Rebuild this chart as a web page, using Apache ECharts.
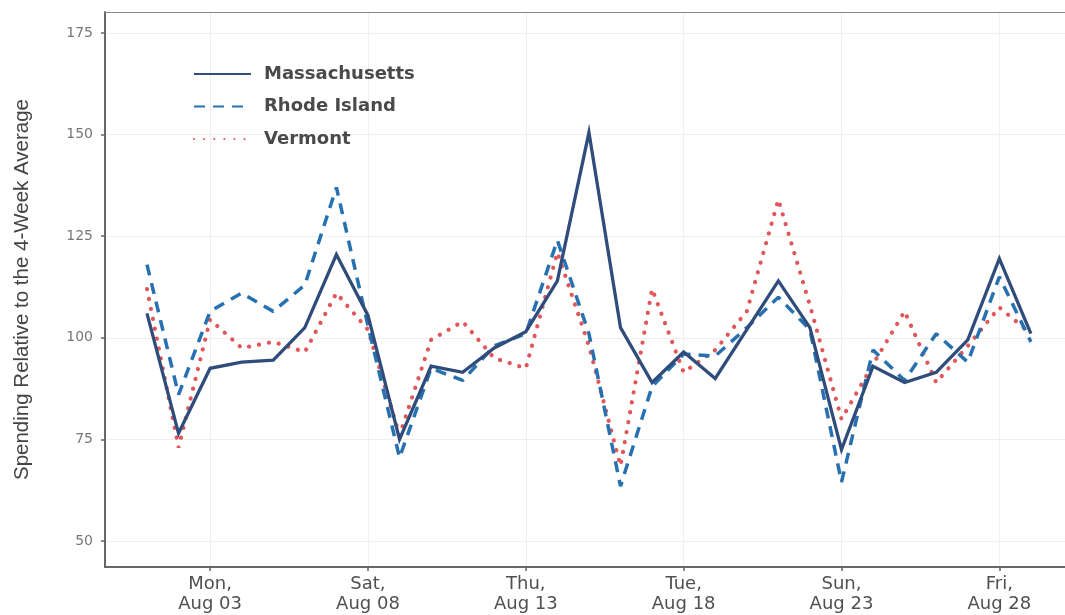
<!DOCTYPE html>
<html>
<head>
<meta charset="utf-8">
<script src="https://cdn.jsdelivr.net/npm/echarts@6/dist/echarts.min.js"></script>
<style>
html,body{margin:0;padding:0;background:#fff;}
#chart{width:1065px;height:615px;}
</style>
</head>
<body>
<div id="chart"></div>
<script>
// Day of August for each observation
const days = [1,2,3,4,5,6,7,8,9,10,11,12,13,14,15,16,17,18,19,20,21,22,23,24,25,26,27,28,29];
const massachusetts = [106,76.5,92.5,94,94.5,102.5,120.5,105.5,75,93,91.5,97.5,101.5,114,150.5,102.5,89,96.5,90,102,114,102.5,72.5,93,89,91.5,99.5,119.5,101];
const rhodeIsland   = [118,86,106.5,111,106.5,113,137,103,70.5,92.5,89.5,98,101,124,101,63.5,88,96,95.5,102.5,110,102,64.5,97,89.5,101,94,115,99];
const vermont       = [112,73,104.5,97.5,99,96.5,111,102,76,99.5,104,95,92.5,121,98,68.5,112,91.5,97,106.5,134,108,80,93.5,106.5,89,98,107.5,101];

const xTickDays = [3,8,13,18,23,28];
const xTickLabels = ['Mon,\nAug 03','Sat,\nAug 08','Thu,\nAug 13','Tue,\nAug 18','Sun,\nAug 23','Fri,\nAug 28'];
const yTicks = [50,75,100,125,150,175];
const yTitle = 'Spending Relative to the 4-Week Average';

function pairs(vals){ return days.map((d,i)=>[d, vals[i]]); }

const X_MIN = -0.33, X_MAX = 30.08;

const chart = echarts.init(document.getElementById('chart'), null, {renderer:'canvas'});
chart.setOption({
  backgroundColor:'#ffffff',
  animation:false,
  grid:{left:105, right:0, top:12, bottom:48, show:false},
  legend:{
    orient:'vertical', left:193, top:64, padding:0,
    itemWidth:57, itemHeight:20, itemGap:12.5,
    itemStyle:{opacity:0, color:'transparent', borderWidth:0},
    textStyle:{fontFamily:'DejaVu Sans', fontSize:18, fontWeight:'bold', color:'#4a4a4a', lineHeight:20, padding:[0,0,0,8]},
    data:['Massachusetts','Rhode Island','Vermont']
  },
  xAxis:[{
    type:'value', min:X_MIN, max:X_MAX,
    axisLine:{show:true, onZero:false, lineStyle:{color:'#666', width:2}},
    axisTick:{show:true, length:4, customValues:xTickDays, lineStyle:{color:'#666', width:1.5}},
    axisLabel:{customValues:xTickDays, margin:7, fontFamily:'DejaVu Sans', fontSize:18, lineHeight:20, color:'#505050',
      formatter:function(v){ const i = xTickDays.indexOf(v); return i>=0 ? xTickLabels[i] : ''; }},
    splitLine:{show:true, lineStyle:{color:'#efefef', width:1}}
  },{
    type:'value', position:'top', min:X_MIN, max:X_MAX,
    axisLine:{show:true, onZero:false, lineStyle:{color:'#8a8a8a', width:1.2}},
    axisTick:{show:false}, axisLabel:{show:false}, splitLine:{show:false}
  }],
  yAxis:{
    type:'value', min:43.6, max:180.17,
    name:yTitle, nameLocation:'middle', nameGap:72, nameRotate:90,
    nameTextStyle:{fontFamily:'Liberation Sans', fontSize:20.5, color:'#444'},
    axisLine:{show:true, onZero:false, lineStyle:{color:'#666', width:2}},
    axisTick:{show:true, length:4, customValues:yTicks, lineStyle:{color:'#666', width:1.5}},
    axisLabel:{customValues:yTicks, margin:12, fontFamily:'DejaVu Sans', fontSize:14, color:'#777'},
    splitLine:{show:true, lineStyle:{color:'#efefef', width:1}}
  },
  series:[
    {name:'Massachusetts', type:'line', xAxisIndex:0, data:pairs(massachusetts), symbol:'none', z:3,
     lineStyle:{color:'#2f4c7b', width:3.3, type:'solid', join:'miter'}, itemStyle:{color:'#2f4c7b'}},
    {name:'Rhode Island', type:'line', xAxisIndex:0, data:pairs(rhodeIsland), symbol:'none', z:2,
     lineStyle:{color:'#2771b0', width:3.5, type:[11,8]}, itemStyle:{color:'#2771b0'}},
    {name:'Vermont', type:'line', xAxisIndex:0, data:pairs(vermont), symbol:'none', z:1,
     lineStyle:{color:'#e0575a', width:4.2, type:[0.1,10], cap:'round'}, itemStyle:{color:'#e0575a'}}
  ]
});
</script>
</body>
</html>
